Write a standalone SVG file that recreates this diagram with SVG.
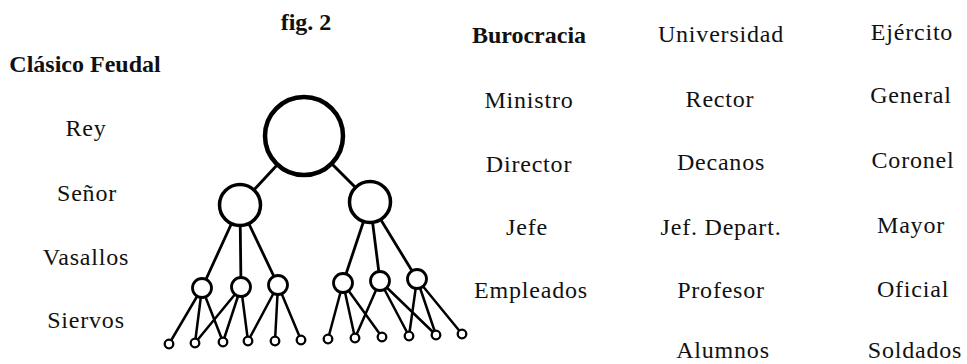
<svg xmlns="http://www.w3.org/2000/svg" width="967" height="364" viewBox="0 0 967 364">
<style>
.t{font-family:"Liberation Serif","Times New Roman",serif;font-size:24px;fill:#111;text-anchor:middle;letter-spacing:0.8px}
.b{font-weight:bold;letter-spacing:0}
.c{stroke:#000;fill:none;stroke-linecap:round}
.n{fill:#fff;stroke:#000}
</style>
<rect width="967" height="364" fill="#fff"/>
<g id="labels">
<text class="t b" x="306" y="30">fig. 2</text>
<text class="t b" x="85" y="72">Clásico Feudal</text>
<text class="t" x="86" y="136">Rey</text>
<text class="t" x="87" y="201">Señor</text>
<text class="t" x="86" y="265">Vasallos</text>
<text class="t" x="86" y="328">Siervos</text>
<text class="t b" x="529" y="43">Burocracia</text>
<text class="t" x="529" y="108">Ministro</text>
<text class="t" x="529" y="172">Director</text>
<text class="t" x="527" y="235">Jefe</text>
<text class="t" x="531" y="298">Empleados</text>
<text class="t" x="721" y="42">Universidad</text>
<text class="t" x="720" y="107">Rector</text>
<text class="t" x="721" y="170">Decanos</text>
<text class="t" x="721" y="235">Jef. Depart.</text>
<text class="t" x="721" y="298">Profesor</text>
<text class="t" x="723" y="358">Alumnos</text>
<text class="t" x="912" y="40">Ejército</text>
<text class="t" x="911" y="103">General</text>
<text class="t" x="913" y="168">Coronel</text>
<text class="t" x="911" y="233">Mayor</text>
<text class="t" x="913" y="297">Oficial</text>
<text class="t" x="915" y="358">Soldados</text>
</g>
<g id="connectors" class="c">
<line x1="304" y1="136" x2="240" y2="205" stroke-width="3"/>
<line x1="304" y1="136" x2="370" y2="202" stroke-width="3"/>
<g stroke-width="2.8">
<line x1="240" y1="205" x2="202" y2="288"/>
<line x1="240" y1="205" x2="241" y2="287"/>
<line x1="240" y1="205" x2="278" y2="285"/>
<line x1="370" y1="202" x2="343" y2="283"/>
<line x1="370" y1="202" x2="380" y2="281"/>
<line x1="370" y1="202" x2="417" y2="279"/>
</g>
<g stroke-width="2.5">
<line x1="202" y1="288" x2="169" y2="344"/>
<line x1="202" y1="288" x2="195" y2="343"/>
<line x1="202" y1="288" x2="223" y2="342"/>
<line x1="241" y1="287" x2="195" y2="343"/>
<line x1="241" y1="287" x2="223" y2="342"/>
<line x1="241" y1="287" x2="248" y2="341"/>
<line x1="278" y1="285" x2="248" y2="341"/>
<line x1="278" y1="285" x2="275" y2="341"/>
<line x1="278" y1="285" x2="301" y2="340"/>
<line x1="343" y1="283" x2="328" y2="339"/>
<line x1="343" y1="283" x2="355" y2="338"/>
<line x1="343" y1="283" x2="382" y2="337"/>
<line x1="380" y1="281" x2="355" y2="338"/>
<line x1="380" y1="281" x2="409" y2="336"/>
<line x1="380" y1="281" x2="436" y2="335"/>
<line x1="417" y1="279" x2="409" y2="336"/>
<line x1="417" y1="279" x2="436" y2="335"/>
<line x1="417" y1="279" x2="462" y2="334"/>
</g>
</g>
<g id="top"><circle class="n" cx="304" cy="136" r="39" stroke-width="4.5"/></g>
<g id="mid1"><circle class="n" cx="240" cy="205" r="20.5" stroke-width="3.5"/></g>
<g id="mid2"><circle class="n" cx="370" cy="202" r="20.5" stroke-width="3.5"/></g>
<g id="s1"><circle class="n" cx="202" cy="288" r="9.5" stroke-width="2.8"/></g>
<g id="s2"><circle class="n" cx="241" cy="287" r="9.5" stroke-width="2.8"/></g>
<g id="s3"><circle class="n" cx="278" cy="285" r="9.5" stroke-width="2.8"/></g>
<g id="s4"><circle class="n" cx="343" cy="283" r="9.5" stroke-width="2.8"/></g>
<g id="s5"><circle class="n" cx="380" cy="281" r="9.5" stroke-width="2.8"/></g>
<g id="s6"><circle class="n" cx="417" cy="279" r="9.5" stroke-width="2.8"/></g>
<g id="leaves">
<g id="l1"><circle class="n" cx="169" cy="344" r="4.3" stroke-width="2.3"/></g>
<g id="l2"><circle class="n" cx="195" cy="343" r="4.3" stroke-width="2.3"/></g>
<g id="l3"><circle class="n" cx="223" cy="342" r="4.3" stroke-width="2.3"/></g>
<g id="l4"><circle class="n" cx="248" cy="341" r="4.3" stroke-width="2.3"/></g>
<g id="l5"><circle class="n" cx="275" cy="341" r="4.3" stroke-width="2.3"/></g>
<g id="l6"><circle class="n" cx="301" cy="340" r="4.3" stroke-width="2.3"/></g>
<g id="l7"><circle class="n" cx="328" cy="339" r="4.3" stroke-width="2.3"/></g>
<g id="l8"><circle class="n" cx="355" cy="338" r="4.3" stroke-width="2.3"/></g>
<g id="l9"><circle class="n" cx="382" cy="337" r="4.3" stroke-width="2.3"/></g>
<g id="l10"><circle class="n" cx="409" cy="336" r="4.3" stroke-width="2.3"/></g>
<g id="l11"><circle class="n" cx="436" cy="335" r="4.3" stroke-width="2.3"/></g>
<g id="l12"><circle class="n" cx="462" cy="334" r="4.3" stroke-width="2.3"/></g>
</g>
</svg>
